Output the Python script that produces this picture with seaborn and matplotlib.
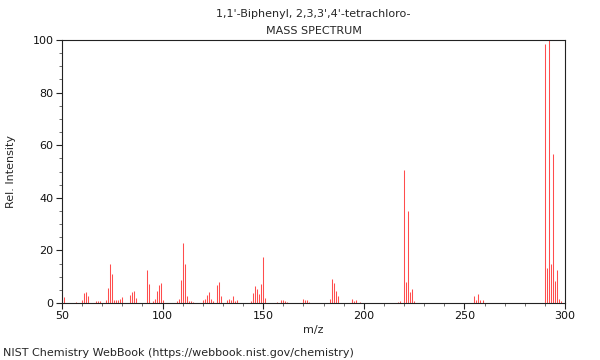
import matplotlib
matplotlib.use("Agg")
import matplotlib.pyplot as plt
from matplotlib.ticker import MultipleLocator
import seaborn as sns
import pandas as pd

title_line1 = "1,1'-Biphenyl, 2,3,3',4'-tetrachloro-"
title_line2 = "MASS SPECTRUM"
x_label = "m/z"
y_label = "Rel. Intensity"
footer = "NIST Chemistry WebBook (https://webbook.nist.gov/chemistry)"

mz = [51, 57, 60, 61, 62, 63, 67, 68, 69, 72, 73, 74, 75, 76, 77, 78, 79, 80,
      84, 85, 86, 87, 92, 93, 95, 96, 97, 98, 99, 100,
      107, 108, 109, 110, 111, 112, 113, 114, 115,
      120, 121, 122, 123, 124, 125, 127, 128, 129,
      132, 133, 134, 135, 136, 137,
      144, 145, 146, 147, 148, 149, 150, 151,
      157, 159, 160, 161, 162, 170, 171, 172, 173,
      183, 184, 185, 186, 187, 194, 195, 196, 198,
      217, 218, 220, 221, 222, 223, 224, 225,
      255, 256, 257, 258, 259,
      290, 291, 292, 293, 294, 295, 296, 297, 298]
intensity = [2.2, 0.5, 1.0, 3.7, 4.2, 2.8, 0.8, 0.8, 0.8, 1.3, 5.7, 15.0, 11.0, 1.0, 1.0, 1.0, 1.5, 2.4,
             3.0, 4.2, 4.6, 1.8, 12.5, 7.2, 0.8, 1.5, 4.7, 7.0, 7.6, 1.3,
             0.9, 1.6, 8.6, 23.0, 14.7, 2.5, 0.6, 0.6, 0.5,
             1.0, 1.5, 3.2, 4.2, 1.5, 0.6, 6.7, 8.1, 2.5,
             1.3, 1.6, 1.3, 2.5, 0.6, 1.1,
             0.9, 3.8, 6.3, 5.4, 3.5, 7.2, 17.5, 2.0,
             0.5, 1.3, 1.0, 0.6, 0.5, 1.5, 1.0, 1.0, 0.5,
             1.5, 9.25, 7.6, 4.7, 2.5, 1.6, 0.6, 1.3, 0.3,
             0.4, 0.9, 50.4, 8.0, 34.9, 4.2, 5.2, 0.9,
             2.5, 1.0, 3.5, 1.0, 1.0,
             98.5, 13.2, 100.0, 15.0, 56.7, 8.4, 12.4, 1.5, 0.8]

x_ticks = [50, 100, 150, 200, 250, 300]
y_ticks = [0, 20, 40, 60, 80, 100]

df = pd.DataFrame({"mz": mz, "intensity": intensity})

sns.set_theme(style="ticks")
plt.rcParams["font.family"] = ["DejaVu Sans"]

fig = plt.figure(figsize=(6, 3.6), dpi=100)
ax = fig.add_axes([62 / 600, 1 - 303 / 360, (565 - 62) / 600, (303 - 40) / 360])

ax.vlines(df["mz"], 0, df["intensity"], colors="#ff4d4d", linewidth=0.75)

ax.set_xlim(50, 300)
ax.set_ylim(0, 100)
ax.set_xticks(x_ticks)
ax.set_yticks(y_ticks)
ax.xaxis.set_minor_locator(MultipleLocator(10))
ax.yaxis.set_minor_locator(MultipleLocator(5))
ax.tick_params(axis="both", which="major", labelsize=8, length=4, width=0.8,
               color="#222222", labelcolor="#111111", pad=2)
ax.tick_params(axis="both", which="minor", length=2, width=0.6, color="#555555")
for s in ax.spines.values():
    s.set_linewidth(0.8)
    s.set_color("#222222")

ax.set_xlabel(x_label, fontsize=8, labelpad=3)
ax.set_ylabel(y_label, fontsize=8, labelpad=12)
ax.set_title(title_line1 + "\n" + title_line2, fontsize=8, linespacing=1.9, pad=4)
fig.text(3 / 600, 1 - 353 / 360, footer, fontsize=8, ha="left", va="center")

fig.savefig("out.png", dpi=100)
